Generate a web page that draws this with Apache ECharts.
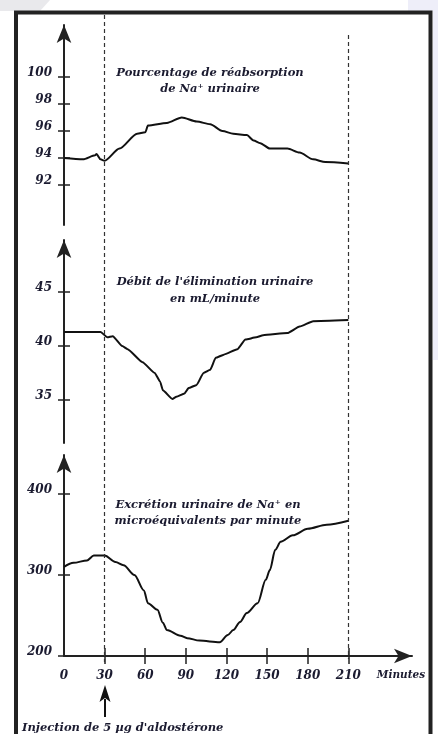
<!DOCTYPE html>
<html>
<head>
<meta charset="utf-8">
<script src="https://cdn.jsdelivr.net/npm/echarts@6/dist/echarts.min.js"></script>
<style>
  html, body { margin: 0; padding: 0; background: #ffffff; }
  #chart { width: 438px; height: 734px; }
</style>
</head>
<body>
<div id="chart"></div>
<script>
// Time axis (minutes) and tick labels
const xTicks = [0, 30, 60, 90, 120, 150, 180, 210];

// Panel 1: percentage of urinary Na+ reabsorption
const timeReabs = [0, 14, 23, 24, 27, 30, 41, 54, 60, 62, 76, 87, 98, 108, 117, 125, 135, 140, 145, 152, 165, 174, 184, 193, 210];
const reabsorption = [94.0, 93.9, 94.2, 94.3, 93.9, 93.8, 94.7, 95.8, 95.9, 96.4, 96.6, 97.0, 96.7, 96.5, 96.0, 95.8, 95.7, 95.3, 95.1, 94.7, 94.7, 94.4, 93.9, 93.7, 93.6];
const reabsTicks = [92, 94, 96, 98, 100];

// Panel 2: urine flow (mL/minute)
const timeFlow = [0, 27, 32, 36, 43, 47, 58, 67, 71, 73, 80, 83, 89, 92, 98, 103, 108, 112, 118, 128, 134, 142, 147, 165, 174, 184, 210];
const urineFlow = [41.3, 41.3, 40.8, 40.9, 40.0, 39.7, 38.5, 37.5, 36.7, 35.9, 35.1, 35.3, 35.6, 36.1, 36.4, 37.5, 37.8, 38.9, 39.2, 39.7, 40.6, 40.8, 41.0, 41.2, 41.8, 42.3, 42.4];
const flowTicks = [35, 40, 45];

// Panel 3: urinary Na+ excretion (microequivalents per minute)
const timeNa = [0, 7, 17, 22, 30, 38, 44, 52, 59, 62, 69, 73, 76, 86, 91, 100, 115, 121, 125, 130, 135, 143, 149, 152, 156, 160, 169, 180, 194, 210];
const naExcretion = [310, 315, 318, 324, 324, 316, 312, 300, 281, 265, 257, 241, 232, 225, 222, 219, 217, 226, 232, 242, 253, 265, 294, 306, 331, 341, 349, 357, 362, 367];
const naTicks = [200, 300, 400];

const pairs = (xs, ys) => xs.map((x, i) => [x, ys[i]]);

const INK = '#1b1b30';
const FONT = 'DejaVu Serif';
const labelStyle = {
  color: INK, fontFamily: FONT, fontStyle: 'italic', fontWeight: 'bold', fontSize: 12
};
const captionFont = 'italic bold 11.5px "DejaVu Serif"';

const X_MAX = 257;
const GRID_LEFT = 64, GRID_W = 348;

const grids = [
  { left: GRID_LEFT, width: GRID_W, top: 25, height: 200 },
  { left: GRID_LEFT, width: GRID_W, top: 240, height: 203 },
  { left: GRID_LEFT, width: GRID_W, top: 455, height: 201 },
  { left: GRID_LEFT, width: GRID_W, top: 15, height: 650 }
];

function hiddenX(gi) {
  return { type: 'value', gridIndex: gi, min: 0, max: X_MAX, show: false };
}

const arrowLine = { show: true, onZero: false, symbol: ['none', 'arrow'], symbolSize: [11, 18], lineStyle: { color: '#222', width: 2 } };
const tickLine = { color: '#222', width: 1.5 };

// y axis drawn with an arrow, outer ticks and labels; a twin axis adds the inner half of each tick
function yAxesFor(gi, min, max, ticks) {
  return [
    {
      type: 'value', gridIndex: gi, min, max, position: 'left',
      axisLine: arrowLine,
      axisTick: { show: true, length: 6, customValues: ticks, lineStyle: tickLine },
      axisLabel: Object.assign({ customValues: ticks, margin: 12, verticalAlign: 'bottom', lineHeight: 8 }, labelStyle),
      splitLine: { show: false }
    },
    {
      type: 'value', gridIndex: gi, min, max, position: 'left',
      axisLine: { show: false },
      axisTick: { show: true, inside: true, length: 6, customValues: ticks, lineStyle: tickLine },
      axisLabel: { show: false },
      splitLine: { show: false }
    }
  ];
}

const tickX = xTicks.filter(v => v > 0);

const option = {
  backgroundColor: '#ffffff',
  animation: false,
  grid: grids,
  xAxis: [
    hiddenX(0),
    hiddenX(1),
    {
      type: 'value', gridIndex: 2, min: 0, max: X_MAX, position: 'bottom',
      axisLine: arrowLine,
      axisTick: { show: true, length: 8, customValues: tickX, lineStyle: tickLine },
      axisLabel: Object.assign({ customValues: xTicks, margin: 14 }, labelStyle),
      splitLine: { show: false }
    },
    {
      type: 'value', gridIndex: 2, min: 0, max: X_MAX, position: 'bottom',
      axisLine: { show: false, onZero: false },
      axisTick: { show: true, inside: true, length: 8, customValues: tickX, lineStyle: tickLine },
      axisLabel: { show: false },
      splitLine: { show: false }
    },
    hiddenX(3)
  ],
  yAxis: [
    ...yAxesFor(0, 89.04, 103.85, reabsTicks),
    ...yAxesFor(1, 31.02, 49.81, flowTicks),
    ...yAxesFor(2, 200, 448.1, naTicks),
    { type: 'value', gridIndex: 3, min: 0, max: 650, show: false }
  ],
  series: [
    {
      type: 'line', xAxisIndex: 0, yAxisIndex: 0, data: pairs(timeReabs, reabsorption),
      showSymbol: false, smooth: 0.25, smoothMonotone: 'x', lineStyle: { color: '#111', width: 2 }
    },
    {
      type: 'line', xAxisIndex: 1, yAxisIndex: 2, data: pairs(timeFlow, urineFlow),
      showSymbol: false, smooth: 0.15, smoothMonotone: 'x', lineStyle: { color: '#111', width: 2 }
    },
    {
      type: 'line', xAxisIndex: 2, yAxisIndex: 4, data: pairs(timeNa, naExcretion),
      showSymbol: false, smooth: 0.3, smoothMonotone: 'x', lineStyle: { color: '#111', width: 2 }
    },
    {
      // dashed guides at the injection time and at the end of the record
      type: 'line', xAxisIndex: 4, yAxisIndex: 6, data: [], clip: false,
      markLine: {
        silent: true, symbol: ['none', 'none'], label: { show: false },
        lineStyle: { color: '#333', width: 1.2, type: [4, 3] },
        data: [
          [{ coord: [30, 650] }, { coord: [30, 3] }],
          [{ coord: [210, 630] }, { coord: [210, 6] }]
        ]
      }
    }
  ],
  graphic: [
    // faint backdrop shapes outside the frame
    { type: 'polygon', shape: { points: [[0, 0], [50, 0], [40, 11], [0, 11]] }, style: { fill: '#e9e9ec' }, silent: true },
    { type: 'rect', shape: { x: 408, y: 0, width: 30, height: 11 }, style: { fill: '#eeeef9' }, silent: true },
    { type: 'rect', shape: { x: 433, y: 0, width: 5, height: 360 }, style: { fill: '#eeeef9' }, silent: true },
    // frame
    { type: 'rect', shape: { x: 16, y: 12.5, width: 414.5, height: 740 }, style: { fill: 'none', stroke: '#222', lineWidth: 4 }, silent: true },
    // panel captions
    { type: 'text', x: 210, y: 73, style: { text: 'Pourcentage de réabsorption', textAlign: 'center', textVerticalAlign: 'middle', fill: INK, font: captionFont } },
    { type: 'text', x: 210, y: 89, style: { text: 'de Na⁺ urinaire', textAlign: 'center', textVerticalAlign: 'middle', fill: INK, font: captionFont } },
    { type: 'text', x: 215, y: 282, style: { text: "Débit de l'élimination urinaire", textAlign: 'center', textVerticalAlign: 'middle', fill: INK, font: captionFont } },
    { type: 'text', x: 215, y: 299, style: { text: 'en mL/minute', textAlign: 'center', textVerticalAlign: 'middle', fill: INK, font: captionFont } },
    { type: 'text', x: 208, y: 505, style: { text: 'Excrétion urinaire de Na⁺ en', textAlign: 'center', textVerticalAlign: 'middle', fill: INK, font: captionFont } },
    { type: 'text', x: 208, y: 521, style: { text: 'microéquivalents par minute', textAlign: 'center', textVerticalAlign: 'middle', fill: INK, font: captionFont } },
    // x axis unit
    { type: 'text', x: 401, y: 675, style: { text: 'Minutes', textAlign: 'center', textVerticalAlign: 'middle', fill: INK, font: 'italic bold 10.5px "DejaVu Serif"' } },
    // injection marker
    { type: 'line', shape: { x1: 105, y1: 699, x2: 105, y2: 717 }, style: { stroke: '#111', lineWidth: 2 } },
    { type: 'polygon', shape: { points: [[105, 685], [99.5, 702], [105, 698], [110.5, 702]] }, style: { fill: '#111' } },
    { type: 'text', x: 22, y: 728, style: { text: "Injection de 5 µg d'aldostérone", textAlign: 'left', textVerticalAlign: 'middle', fill: INK, font: 'italic bold 11.5px "DejaVu Serif"' } }
  ]
};

const chart = echarts.init(document.getElementById('chart'), null, { renderer: 'canvas' });
chart.setOption(option);
</script>
</body>
</html>
